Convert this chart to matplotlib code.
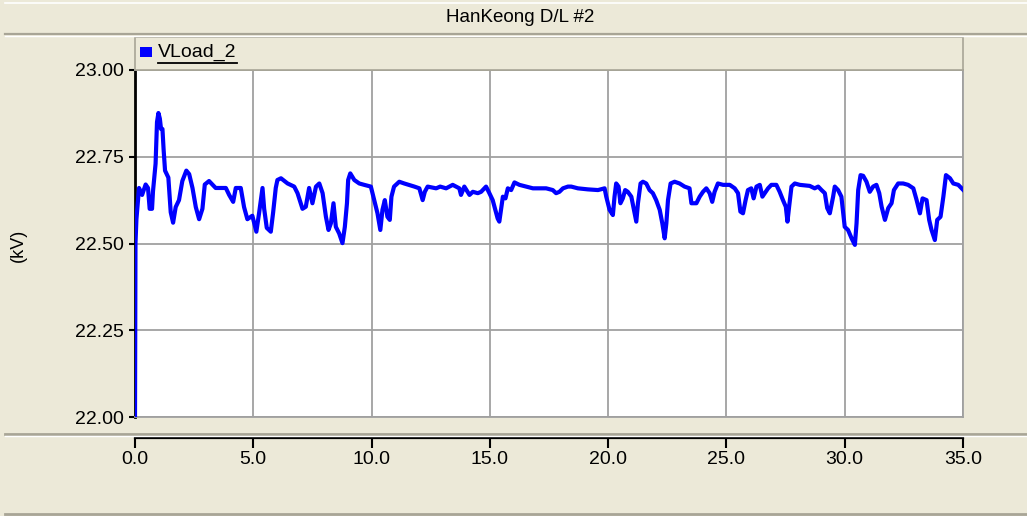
import matplotlib
matplotlib.use('Agg')
import matplotlib.pyplot as plt
from matplotlib import font_manager
from matplotlib.lines import Line2D
from matplotlib.patches import Rectangle

# texto / eixos
title = 'HanKeong D/L #2'
series_name = 'VLoad_2'
y_label = '(kV)'
x_ticks = [0.0, 5.0, 10.0, 15.0, 20.0, 25.0, 30.0, 35.0]
y_ticks = [22.00, 22.25, 22.50, 22.75, 23.00]

# serie (tempo, kV)
time_s = [
    0.0, 0.02, 0.06, 0.17, 0.30, 0.45, 0.55, 0.62, 0.72, 0.76, 0.87, 0.93, 0.99,
    1.05, 1.10, 1.16, 1.21, 1.27, 1.41, 1.51, 1.61, 1.72, 1.86, 2.00, 2.17, 2.29,
    2.43, 2.57, 2.71, 2.85, 2.95, 3.13, 3.41, 3.84, 3.98, 4.15, 4.26, 4.47, 4.61,
    4.75, 4.96, 5.13, 5.25, 5.39, 5.46, 5.57, 5.74, 5.84, 5.95, 6.02, 6.17, 6.45,
    6.73, 6.87, 7.08, 7.22, 7.36, 7.50, 7.65, 7.79, 7.93, 8.07, 8.18, 8.28, 8.39,
    8.49, 8.63, 8.77, 8.87, 8.96, 9.01, 9.10, 9.27, 9.48, 9.69, 9.97, 10.11, 10.25,
    10.37, 10.46, 10.56, 10.67, 10.77, 10.84, 10.95, 11.17, 11.38, 11.81, 12.02,
    12.16, 12.25, 12.37, 12.73, 12.90, 13.15, 13.29, 13.43, 13.57, 13.71, 13.78,
    13.92, 14.14, 14.28, 14.49, 14.63, 14.84, 14.98, 15.12, 15.23, 15.33, 15.40,
    15.47, 15.55, 15.66, 15.76, 15.90, 16.04, 16.25, 16.53, 16.82, 17.10, 17.38,
    17.66, 17.80, 17.94, 18.09, 18.30, 18.44, 18.72, 19.14, 19.57, 19.85, 19.92,
    20.06, 20.20, 20.27, 20.34, 20.44, 20.52, 20.62, 20.72, 20.83, 20.98, 21.09,
    21.19, 21.26, 21.37, 21.47, 21.61, 21.75, 21.89, 22.03, 22.18, 22.29, 22.39,
    22.46, 22.53, 22.64, 22.81, 23.02, 23.23, 23.44, 23.52, 23.73, 23.87, 24.01,
    24.15, 24.29, 24.40, 24.50, 24.64, 24.86, 25.14, 25.35, 25.49, 25.59, 25.70,
    25.81, 25.91, 26.05, 26.15, 26.27, 26.41, 26.52, 26.62, 26.76, 26.90, 27.11,
    27.25, 27.39, 27.51, 27.58, 27.65, 27.75, 27.89, 28.10, 28.52, 28.73, 28.88,
    29.02, 29.16, 29.26, 29.37, 29.51, 29.58, 29.72, 29.86, 30.00, 30.14, 30.29,
    30.43, 30.50, 30.57, 30.67, 30.78, 30.92, 31.06, 31.20, 31.34, 31.46, 31.56,
    31.70, 31.84, 31.98, 32.08, 32.26, 32.47, 32.68, 32.90, 33.04, 33.18, 33.29,
    33.46, 33.57, 33.67, 33.81, 33.91, 34.05, 34.17, 34.28, 34.45, 34.59, 34.80,
    34.94, 35.00,
]
vload_kv = [
    22.000, 22.500, 22.570, 22.660, 22.640, 22.670, 22.660, 22.600, 22.600, 22.650,
    22.730, 22.850, 22.876, 22.860, 22.830, 22.830, 22.770, 22.710, 22.690, 22.590,
    22.560, 22.605, 22.625, 22.680, 22.710, 22.700, 22.660, 22.605, 22.570, 22.600,
    22.670, 22.680, 22.660, 22.660, 22.640, 22.620, 22.660, 22.660, 22.605, 22.570,
    22.580, 22.534, 22.590, 22.660, 22.600, 22.545, 22.534, 22.590, 22.660, 22.683,
    22.688, 22.673, 22.664, 22.645, 22.600, 22.606, 22.660, 22.616, 22.664, 22.673,
    22.645, 22.577, 22.539, 22.558, 22.616, 22.548, 22.529, 22.501, 22.548, 22.616,
    22.683, 22.702, 22.683, 22.673, 22.669, 22.664, 22.625, 22.587, 22.539, 22.597,
    22.625, 22.577, 22.568, 22.635, 22.664, 22.678, 22.673, 22.664, 22.659, 22.625,
    22.649, 22.664, 22.659, 22.664, 22.659, 22.664, 22.669, 22.664, 22.659, 22.640,
    22.664, 22.640, 22.649, 22.645, 22.649, 22.664, 22.645, 22.625, 22.597, 22.572,
    22.563, 22.597, 22.635, 22.630, 22.659, 22.654, 22.676, 22.669, 22.664, 22.659,
    22.659, 22.659, 22.654, 22.645, 22.649, 22.659, 22.664, 22.664, 22.659, 22.656,
    22.654, 22.659, 22.635, 22.597, 22.582, 22.635, 22.673, 22.664, 22.616, 22.630,
    22.654, 22.649, 22.635, 22.597, 22.563, 22.616, 22.673, 22.678, 22.673, 22.654,
    22.645, 22.625, 22.597, 22.558, 22.515, 22.558, 22.625, 22.673, 22.678, 22.673,
    22.664, 22.659, 22.616, 22.616, 22.635, 22.649, 22.659, 22.645, 22.620, 22.649,
    22.673, 22.669, 22.669, 22.659, 22.645, 22.592, 22.587, 22.625, 22.654, 22.659,
    22.630, 22.664, 22.669, 22.635, 22.645, 22.659, 22.669, 22.669, 22.649, 22.625,
    22.606, 22.563, 22.606, 22.664, 22.673, 22.669, 22.666, 22.659, 22.664, 22.654,
    22.645, 22.602, 22.587, 22.635, 22.664, 22.654, 22.635, 22.548, 22.539, 22.515,
    22.496, 22.558, 22.654, 22.697, 22.695, 22.678, 22.649, 22.664, 22.669, 22.645,
    22.606, 22.568, 22.602, 22.616, 22.654, 22.673, 22.673, 22.669, 22.659, 22.625,
    22.587, 22.630, 22.625, 22.568, 22.539, 22.510, 22.568, 22.577, 22.635, 22.697,
    22.688, 22.673, 22.669, 22.659, 22.655,
]

W, H = 1027, 516
bg = '#ece9d8'
edge = '#a8a596'
grid_c = '#a0a0a0'

installed = {f.name for f in font_manager.fontManager.ttflist}
base_font = 'Liberation Sans'
narrow_font = 'Liberation Sans Narrow' if 'Liberation Sans Narrow' in installed else base_font
plt.rcParams['font.family'] = base_font

fig = plt.figure(figsize=(W / 100, H / 100), dpi=100, facecolor=bg)

def fy(py):
    return 1 - py / H

# linhas de separacao do painel
for py, c, lw in [(3, 'white', 1.2), (34, edge, 1.6), (36, 'white', 1.0),
                  (434, edge, 2.0), (436, 'white', 1.0), (514, edge, 2.0)]:
    fig.add_artist(Line2D([5 / W, 1], [fy(py), fy(py)], color=c, lw=lw,
                          transform=fig.transFigure))

fig.text(520 / W, fy(18), title, ha='center', va='center', fontsize=13.5)

# faixa da legenda
fig.add_artist(Rectangle((135 / W, fy(70)), 828 / W, 33 / H, transform=fig.transFigure,
                         facecolor=bg, edgecolor=edge, lw=1.2))
fig.add_artist(Rectangle((140 / W, fy(57)), 12 / W, 10 / H, transform=fig.transFigure,
                         facecolor='#0000ff', edgecolor='none'))
leg_txt = fig.text(158 / W, fy(52), series_name, ha='left', va='center', fontsize=14)

# area do grafico
ax = fig.add_axes([135 / W, fy(417), 828 / W, 347 / H])
ax.set_facecolor('white')
ax.plot(time_s, vload_kv, color='#0000ff', lw=3.0, zorder=3)
ax.set_xlim(0, 35)
ax.set_ylim(22, 23)
ax.set_xticks(x_ticks)
ax.set_yticks(y_ticks)
ax.set_yticklabels(['%.2f' % v for v in y_ticks])
ax.tick_params(axis='x', length=0, labelbottom=False)
ax.tick_params(axis='y', length=4, width=1.5, labelsize=14, pad=4)
ax.grid(True, color=grid_c, lw=1.3)
for s in ['top', 'right', 'bottom']:
    ax.spines[s].set_color(grid_c)
    ax.spines[s].set_linewidth(1.3)
ax.spines['left'].set_linewidth(2)
ax.spines['left'].set_zorder(2)

fig.text(18 / W, fy(245), y_label, rotation=90, ha='center', va='center', fontsize=13)

# eixo x separado, abaixo do grafico
ax2 = fig.add_axes([135 / W, fy(437.5), 828 / W, 0.0001])
ax2.patch.set_visible(False)
for s in ['top', 'right', 'left']:
    ax2.spines[s].set_visible(False)
ax2.spines['bottom'].set_linewidth(1.6)
ax2.set_xlim(0, 35)
ax2.set_xticks(x_ticks)
ax2.set_xticklabels(['%.1f' % v for v in x_ticks], family=narrow_font, fontsize=14)
ax2.set_yticks([])
ax2.tick_params(axis='x', length=7, width=1.5, pad=3)

# sublinhado da legenda
fig.canvas.draw()
bb = leg_txt.get_window_extent()
fig.add_artist(Line2D([bb.x0 / W, bb.x1 / W], [fy(63), fy(63)], color='black', lw=1.3,
                      transform=fig.transFigure))

fig.savefig('out.png', dpi=100, facecolor=bg)
